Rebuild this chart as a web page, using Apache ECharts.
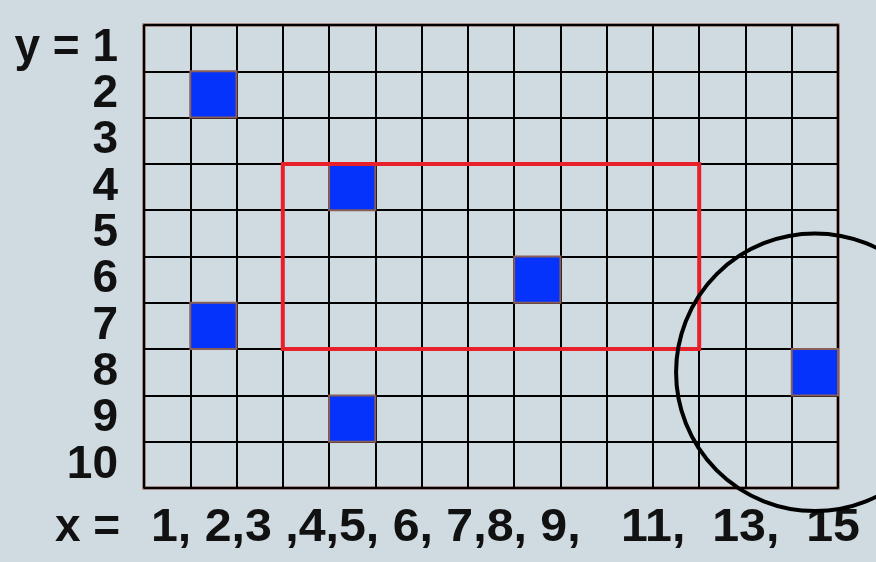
<!DOCTYPE html>
<html>
<head>
<meta charset="utf-8">
<script src="https://cdn.jsdelivr.net/npm/echarts@6/dist/echarts.min.js"></script>
<style>
html,body{margin:0;padding:0;background:#cfdbe0;}
#chart{width:876px;height:562px;}
</style>
</head>
<body>
<div id="chart"></div>
<script>
// Grid size
var numCols = 15;
var numRows = 10;
// Y tick labels (rows)
var yLabels = ['y = 1','2','3','4','5','6','7','8','9','10'];
// X label text line
var xPrefix = 'x =';
var xLabelText = '1, 2,3 ,4,5, 6, 7,8, 9,   11,  13,  15';
// Filled blue cells [column, row] (1-indexed)
var blueCells = [[2,2],[5,4],[9,6],[2,7],[5,9],[15,8]];
// Red rectangle: [colStart, rowStart, colEnd, rowEnd] (cell edges)
var redRect = [[3,3,12,7]];
// Circle: [centerCol, centerRow, radius] in cell units
var circles = [[14.5,7.5,3]];

var chart = echarts.init(document.getElementById('chart'));
var font = "'Liberation Sans', Arial, sans-serif";
var option = {
  backgroundColor: '#cfdbe0',
  animation: false,
  grid: {left:144, top:25, right:38, bottom:74, show:true, borderColor:'#7a3626', borderWidth:3, backgroundColor:'transparent'},
  xAxis: {
    type:'value', min:0, max:numCols, interval:1,
    axisLine:{show:false}, axisTick:{show:false}, axisLabel:{show:false},
    splitLine:{show:true, lineStyle:{color:'#000', width:2}}
  },
  yAxis: [
    {type:'value', min:0, max:numRows, interval:1, inverse:true,
     axisLine:{show:false}, axisTick:{show:false}, axisLabel:{show:false},
     splitLine:{show:true, lineStyle:{color:'#000', width:2}}},
    {type:'category', data:yLabels, inverse:true, position:'left',
     axisLine:{show:false}, axisTick:{show:false}, splitLine:{show:false},
     axisLabel:{show:true, interval:0, color:'#111', fontSize:46, fontWeight:'bold', fontFamily:font, margin:26}}
  ],
  graphic: [
    {type:'text', left:55, top:505, style:{text:xPrefix, fontSize:46, fontWeight:'bold', fontFamily:font, fill:'#111'}},
    {type:'text', left:151, top:505, scaleX:1.05, style:{text:xLabelText, fontSize:46, fontWeight:'bold', fontFamily:font, fill:'#111'}}
  ],
  series: [
    {
      type:'custom', clip:false, yAxisIndex:0, data:blueCells, z:5,
      renderItem:function(params, api){
        var c = api.value(0), r = api.value(1);
        var p0 = api.coord([c-1, r-1]);
        var p1 = api.coord([c, r]);
        return {type:'rect', shape:{x:p0[0], y:p0[1], width:p1[0]-p0[0], height:p1[1]-p0[1]},
          style:{fill:'#0533fb', stroke:'#8a5e58', lineWidth:2}};
      }
    },
    {
      type:'custom', clip:false, yAxisIndex:0, data:redRect, z:6,
      renderItem:function(params, api){
        var p0 = api.coord([api.value(0), api.value(1)]);
        var p1 = api.coord([api.value(2), api.value(3)]);
        return {type:'rect', shape:{x:p0[0], y:p0[1], width:p1[0]-p0[0], height:p1[1]-p0[1]},
          style:{fill:'none', stroke:'#e8202a', lineWidth:4}};
      }
    },
    {
      type:'custom', clip:false, yAxisIndex:0, data:circles, z:7,
      renderItem:function(params, api){
        var c = api.coord([api.value(0), api.value(1)]);
        var s = api.size([api.value(2), api.value(2)]);
        return {type:'circle', shape:{cx:c[0], cy:c[1], r:s[0]},
          style:{fill:'none', stroke:'#000', lineWidth:4}};
      }
    }
  ]
};
chart.setOption(option);
</script>
</body>
</html>
